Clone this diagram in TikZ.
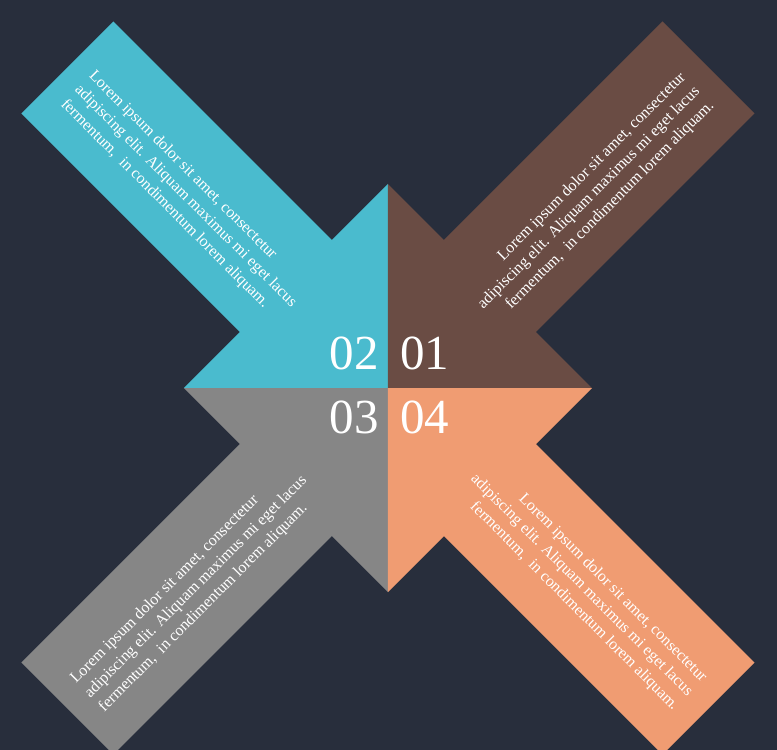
\documentclass[tikz,border=0pt]{standalone}
\usepackage{fontspec}
\setmainfont{Liberation Serif}
\usetikzlibrary{calc}
\definecolor{bgdark}{RGB}{40,46,60}
\definecolor{skyblue}{RGB}{74,187,206}
\definecolor{cocoa}{RGB}{106,76,68}
\definecolor{midgray}{RGB}{134,134,134}
\definecolor{salmon}{RGB}{240,156,114}

\begin{document}
\begin{tikzpicture}[x=1pt, y=1pt]
\tikzstyle{desc} = [text=white, inner sep=0pt, font=\fontsize{16}{20}\selectfont];
\tikzstyle{num} = [text=white, inner sep=0pt, font=\fontsize{49}{49}\selectfont];

\fill [bgdark] (-388,-362) rectangle (389,388);
\clip (-388,-362) rectangle (389,388);

\fill [skyblue] (0,0) -- (0,204) -- (-56,148) -- (-274.5,366.5) -- (-366.5,274.5) -- (-148,56) -- (-204,0) -- cycle;
\fill [cocoa] (0,0) -- (204,0) -- (148,56) -- (366.5,274.5) -- (274.5,366.5) -- (56,148) -- (0,204) -- cycle;
\fill [midgray] (0,0) -- (-204,0) -- (-148,-56) -- (-366.5,-274.5) -- (-274.5,-366.5) -- (-56,-148) -- (0,-204) -- cycle;
\fill [salmon] (0,0) -- (0,-204) -- (56,-148) -- (274.5,-366.5) -- (366.5,-274.5) -- (148,-56) -- (204,0) -- cycle;

\node [num, anchor=base east] (numtwo) at (-9,18) {02};
\node [num, anchor=base west] (numone) at (12,18) {01};
\node [num, anchor=base east] (numthree) at (-9,-45) {03};
\node [num, anchor=base west] (numfour) at (12,-45) {04};

\node [desc, align=left, anchor=west, rotate=-45] (txttwo) at (-311,300)
  {Lorem ipsum dolor sit amet, consectetur\\adipiscing elit. Aliquam maximus mi eget lacus\\fermentum, \ in condimentum lorem aliquam.};
\node [desc, align=right, anchor=east, rotate=45] (txtone) at (309.7,298.3)
  {Lorem ipsum dolor sit amet, consectetur\\adipiscing elit. Aliquam maximus mi eget lacus\\fermentum, \ in condimentum lorem aliquam.};
\node [desc, align=left, anchor=west, rotate=45] (txtthree) at (-300.5,-307.5)
  {Lorem ipsum dolor sit amet, consectetur\\adipiscing elit. Aliquam maximus mi eget lacus\\fermentum, \ in condimentum lorem aliquam.};
\node [desc, align=right, anchor=east, rotate=-45] (txtfour) at (302,-306)
  {Lorem ipsum dolor sit amet, consectetur\\adipiscing elit. Aliquam maximus mi eget lacus\\fermentum, \ in condimentum lorem aliquam.};
\end{tikzpicture}
\end{document}
